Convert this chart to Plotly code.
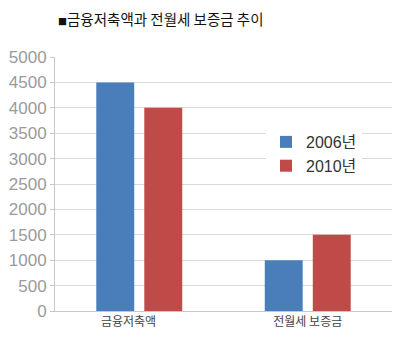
import plotly.graph_objects as go

categories = ["금융저축액", "전월세 보증금"]
series_names = ["2006년", "2010년"]
values_2006 = [4500, 1000]
values_2010 = [4000, 1500]
y_ticks = [0, 500, 1000, 1500, 2000, 2500, 3000, 3500, 4000, 4500, 5000]
title_text = "금융저축액과 전월세 보증금 추이"

colors = ["#4a7ebb", "#be4b48"]

fig = go.Figure()
for name, vals, c in zip(series_names, [values_2006, values_2010], colors):
    fig.add_trace(go.Bar(x=categories, y=vals, name=name, marker=dict(color=c, line=dict(width=0))))

L, R, T, B = 55, 8, 57, 43
W, H = 400, 354
pw, ph = W - L - R, H - T - B

# first label sits a little left of its group in the reference
pad = "\u00a0" * 8
tick_text = [categories[0] + pad, categories[1]]

fig.update_layout(
    width=W, height=H,
    margin=dict(l=L, r=R, t=T, b=B),
    paper_bgcolor="white", plot_bgcolor="white",
    barmode="group", bargap=0.43, bargroupgap=0.21,
    font=dict(family="Noto Sans CJK KR, Noto Sans, sans-serif"),
    showlegend=True,
    legend=dict(
        x=(266 - L) / pw, y=1 - (125 - T) / ph, xanchor="left", yanchor="top",
        font=dict(size=16, color="#333333", family="Liberation Sans, Noto Sans CJK KR"),
        bgcolor="rgba(255,255,255,1)", itemwidth=30, tracegroupgap=0,
    ),
    annotations=[dict(
        text="<span style='font-size:9px'>■</span>" + title_text, xref="paper", yref="paper",
        x=(56 - L) / pw, y=1 + (T - 18) / ph, xanchor="left", yanchor="middle",
        showarrow=False, font=dict(size=14.5, color="#111111", family="Noto Sans CJK KR"),
    )],
)
fig.update_xaxes(
    showgrid=False, showline=True, linecolor="#c8c8c8", linewidth=1,
    tickvals=categories, ticktext=tick_text,
    ticks="", tickfont=dict(size=12, color="#444444", family="Noto Sans CJK KR"),
)
fig.update_yaxes(
    range=[0, 5000], tickvals=y_ticks, showgrid=True, gridcolor="#d9d9d9", gridwidth=1,
    showline=True, linecolor="#c8c8c8", linewidth=1, ticks="outside", ticklen=4, tickcolor="#c8c8c8",
    tickfont=dict(size=17, color="#9a9a9a", family="Liberation Sans"), zeroline=False,
)

fig.write_html("out.html")
